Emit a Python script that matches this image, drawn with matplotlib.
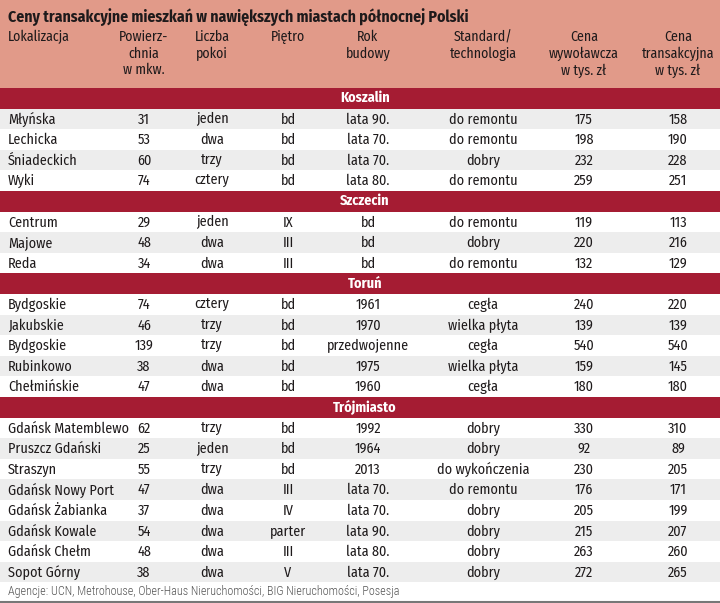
import matplotlib.pyplot as plt
from matplotlib.patches import Rectangle

plt.rcParams['font.family'] = ['Fira Sans Condensed', 'Roboto Condensed', 'DejaVu Sans']

title = 'Ceny transakcyjne mieszkań w nawiększych miastach północnej Polski'
headers = ['Lokalizacja', 'Powierz-\nchnia\nw mkw.', 'Liczba\npokoi', 'Piętro',
           'Rok\nbudowy', 'Standard/\ntechnologia', 'Cena\nwywoławcza\nw tys. zł',
           'Cena\ntransakcyjna\nw tys. zł']
source = 'Agencje: UCN, Metrohouse, Ober-Haus Nieruchomości, BIG Nieruchomości, Posesja'

cities = ['Koszalin', 'Szczecin', 'Toruń', 'Trójmiasto']
city_counts = [4, 3, 5, 8]

locations = ['Młyńska', 'Lechicka', 'Śniadeckich', 'Wyki',
             'Centrum', 'Majowe', 'Reda',
             'Bydgoskie', 'Jakubskie', 'Bydgoskie', 'Rubinkowo', 'Chełmińskie',
             'Gdańsk Matemblewo', 'Pruszcz Gdański', 'Straszyn', 'Gdańsk Nowy Port',
             'Gdańsk Żabianka', 'Gdańsk Kowale', 'Gdańsk Chełm', 'Sopot Górny']
areas = [31, 53, 60, 74, 29, 48, 34, 74, 46, 139, 38, 47, 62, 25, 55, 47, 37, 54, 48, 38]
rooms = ['jeden', 'dwa', 'trzy', 'cztery', 'jeden', 'dwa', 'dwa',
         'cztery', 'trzy', 'trzy', 'dwa', 'dwa',
         'trzy', 'jeden', 'trzy', 'dwa', 'dwa', 'dwa', 'dwa', 'dwa']
floors = ['bd', 'bd', 'bd', 'bd', 'IX', 'III', 'III',
          'bd', 'bd', 'bd', 'bd', 'bd',
          'bd', 'bd', 'bd', 'III', 'IV', 'parter', 'III', 'V']
years = ['lata 90.', 'lata 70.', 'lata 70.', 'lata 80.', 'bd', 'bd', 'bd',
         '1961', '1970', 'przedwojenne', '1975', '1960',
         '1992', '1964', '2013', 'lata 70.', 'lata 70.', 'lata 90.', 'lata 80.', 'lata 70.']
standards = ['do remontu', 'do remontu', 'dobry', 'do remontu',
             'do remontu', 'dobry', 'do remontu',
             'cegła', 'wielka płyta', 'cegła', 'wielka płyta', 'cegła',
             'dobry', 'dobry', 'do wykończenia', 'do remontu', 'dobry', 'dobry', 'dobry', 'dobry']
asking = [175, 198, 232, 259, 119, 220, 132, 240, 139, 540, 159, 180,
          330, 92, 230, 176, 205, 215, 263, 272]
final = [158, 190, 228, 251, 113, 216, 129, 220, 139, 540, 145, 180,
         310, 89, 205, 171, 199, 207, 260, 265]

W, H = 720, 603
fig = plt.figure(figsize=(W / 100, H / 100), dpi=100)
ax = fig.add_axes([0, 0, 1, 1])
ax.set_xlim(0, W)
ax.set_ylim(H, 0)
ax.axis('off')

salmon = '#E19A89'
red = '#A51C33'
gray = '#EDEDED'
ink = '#1E1A1B'

col_x = [8, 144, 212, 288, 368, 483, 584, 678]
fs = 10.2

# header block
ax.add_patch(Rectangle((0, 0), W, 88, color=salmon, lw=0))
ax.text(8, 17, title, fontsize=11.3, fontweight='bold', color=ink, va='center')
for i, h in enumerate(headers):
    ax.text(col_x[i], 30, h, fontsize=10, color=ink, va='top',
            ha='left' if i == 0 else 'center', linespacing=1.2)

row_h = 20.6
y = 88
k = 0
for c, city in enumerate(cities):
    ax.add_patch(Rectangle((0, y), W, row_h, color=red, lw=0))
    ax.text(365, y + row_h / 2, city, fontsize=fs, fontweight='bold', color='white',
            ha='center', va='center')
    y += row_h
    for j in range(city_counts[c]):
        # Koszalin starts with a grey row, the other sections with a white one
        shade = (j % 2 == 0) if c == 0 else (j % 2 == 1)
        if shade:
            ax.add_patch(Rectangle((0, y), W, row_h, color=gray, lw=0))
        vals = [locations[k], areas[k], rooms[k], floors[k], years[k],
                standards[k], asking[k], final[k]]
        for i, v in enumerate(vals):
            ax.text(col_x[i], y + row_h / 2 + 0.5, str(v), fontsize=fs, color=ink,
                    ha='left' if i == 0 else 'center', va='center')
        y += row_h
        k += 1

# footer
ax.text(8, 592, source, fontsize=8.7, fontweight='light', color='#555555', va='center',
        family=['Roboto Condensed', 'DejaVu Sans'])
ax.plot([0, W], [601.5, 601.5], color='#777777', lw=1.5)

fig.savefig('out.png', dpi=100)
